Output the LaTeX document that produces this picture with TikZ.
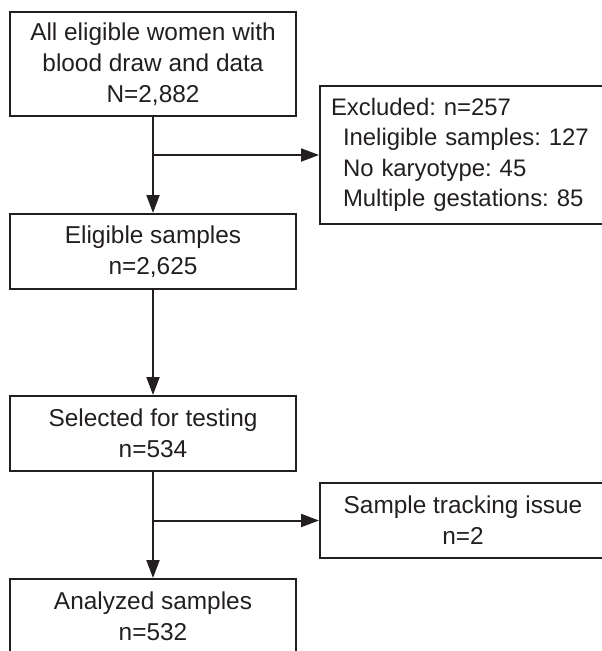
\documentclass[tikz,border=0pt]{standalone}
\usepackage{fontspec}
\setmainfont{Liberation Sans}
\usetikzlibrary{arrows.meta}
\definecolor{ink}{HTML}{231F20}
\begin{document}
\begin{tikzpicture}[x=1pt,y=-1pt,
  box/.style={draw=ink, line width=2pt, text=ink, inner sep=0pt, align=center,
    font=\fontsize{24.4pt}{31pt}\selectfont\frenchspacing},
  leftbox/.style={box, minimum width=286pt},
  arr/.style={draw=ink, line width=2pt, -{Triangle[length=18pt,width=13pt]}}]
\useasboundingbox (0,0) rectangle (602,651);
\clip (0,0) rectangle (602,651);
\node[leftbox, minimum height=104pt] (all) at (153,64)
  {All eligible women with\\blood draw and data\\N=2,882};
\node[box, anchor=north west, minimum height=138pt, text width=270pt,
  inner xsep=11pt, align=left, font=\fontsize{23.9pt}{30.5pt}\selectfont\frenchspacing] (exc) at (319,85)
  {Excluded: n=257\\\hspace*{12pt}Ineligible samples: 127\\\hspace*{12pt}No karyotype: 45\\\hspace*{12pt}Multiple gestations: 85};
\node[leftbox, minimum height=75pt] (elig) at (153,251.5)
  {Eligible samples\\n=2,625};
\node[leftbox, minimum height=75pt] (sel) at (153,433.5)
  {Selected for testing\\n=534};
\node[box, anchor=west, minimum width=286pt, minimum height=75pt] (trk) at (319,520.5)
  {Sample tracking issue\\n=2};
\node[leftbox, minimum height=75pt] (ana) at (153,616.5)
  {Analyzed samples\\n=532};
\draw[arr] (all.south) -- (elig.north);
\draw[arr] (all.south |- exc.west) -- (exc.west);
\draw[arr] (elig.south) -- (sel.north);
\draw[arr] (sel.south) -- (ana.north);
\draw[arr] (sel.south |- trk.west) -- (trk.west);
\end{tikzpicture}
\end{document}
